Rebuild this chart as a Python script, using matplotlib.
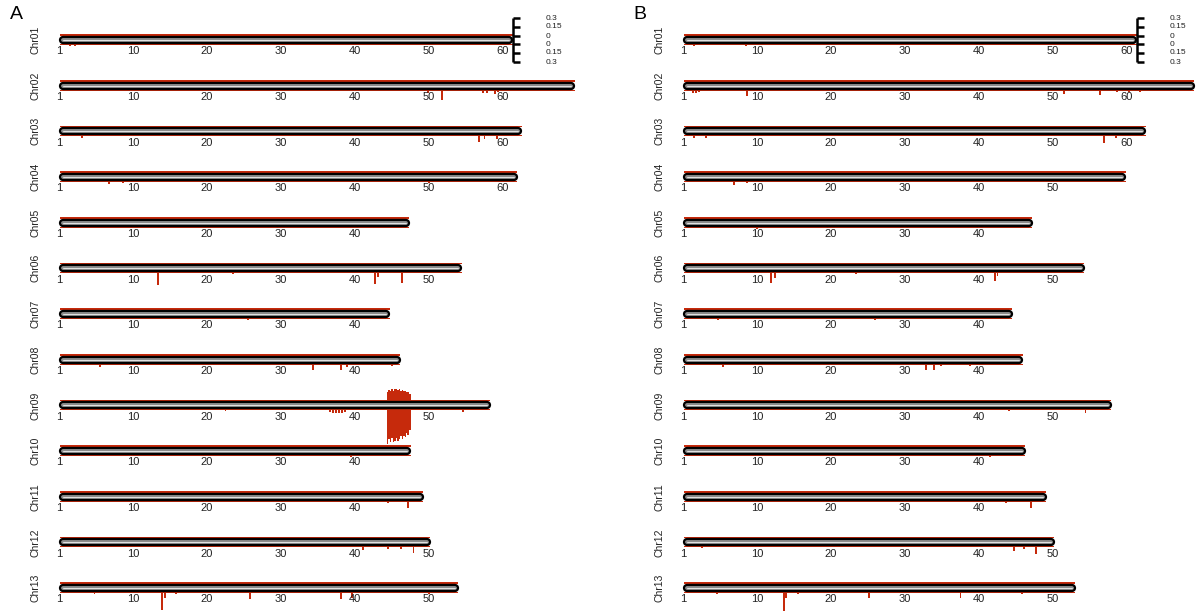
import matplotlib
matplotlib.use('Agg')
import matplotlib.pyplot as plt

plt.rcParams['font.family'] = ['Liberation Sans', 'DejaVu Sans']

chroms = ['Chr01', 'Chr02', 'Chr03', 'Chr04', 'Chr05', 'Chr06', 'Chr07',
          'Chr08', 'Chr09', 'Chr10', 'Chr11', 'Chr12', 'Chr13']

# chromosome lengths (Mb)
len_A = [61.4, 69.8, 62.6, 62.0, 47.4, 54.5, 44.8, 46.2, 58.4, 47.6, 49.3, 50.3, 54.0]
len_B = [61.4, 69.2, 62.6, 59.9, 47.3, 54.3, 44.6, 46.0, 58.0, 46.3, 49.2, 50.3, 53.1]

# lower track peaks (position Mb, value)
low_pos_A = [
    [1.5, 2.2, 8.0],
    [2.0, 8.7, 49.9, 51.8, 57.3, 57.8, 58.9, 59.3],
    [3.1, 56.7, 57.5, 59.2],
    [6.8, 8.7, 50.0],
    [8.2, 9.2, 13.8],
    [13.4, 23.5, 42.7, 43.1, 46.4],
    [4.5, 25.5],
    [5.5, 34.3, 38.1, 38.9, 45.0],
    [22.5, 36.6, 37.0, 37.4, 37.8, 38.2, 38.6, 54.6],
    [39.5],
    [4.5, 11.0, 44.5, 47.2],
    [41.1, 44.5, 46.2, 47.9],
    [4.8, 13.9, 14.3, 15.8, 25.8, 38.1, 39.6, 50.0],
]
low_val_A = [
    [0.04, 0.03, 0.02],
    [0.03, 0.03, 0.05, 0.18, 0.06, 0.05, 0.07, 0.04],
    [0.04, 0.11, 0.06, 0.06],
    [0.05, 0.03, 0.03],
    [0.03, 0.03, 0.02],
    [0.21, 0.03, 0.19, 0.08, 0.18],
    [0.02, 0.03],
    [0.05, 0.10, 0.10, 0.06, 0.04],
    [0.02, 0.05, 0.06, 0.06, 0.06, 0.06, 0.05, 0.04],
    [0.03],
    [0.03, 0.03, 0.04, 0.13],
    [0.06, 0.04, 0.05, 0.11],
    [0.03, 0.30, 0.10, 0.03, 0.12, 0.12, 0.10, 0.03],
]
low_pos_B = [
    [1.5, 8.5],
    [1.4, 1.8, 2.2, 5.5, 8.7, 51.5, 56.3, 58.7, 60.3, 61.7],
    [1.5, 3.1, 56.9, 58.5],
    [6.9, 8.7],
    [4.5, 8.2, 9.0, 10.0, 14.5],
    [11.9, 12.4, 23.4, 42.2, 42.5],
    [4.7, 26.0],
    [5.4, 32.8, 33.9, 34.9, 38.8],
    [44.0, 54.4],
    [41.5],
    [1.5, 10.5, 43.7, 47.0],
    [2.6, 44.7, 46.1, 47.7],
    [4.6, 13.6, 13.9, 15.5, 25.1, 37.5, 45.8],
]
low_val_B = [
    [0.03, 0.03],
    [0.05, 0.05, 0.04, 0.03, 0.11, 0.08, 0.09, 0.04, 0.04, 0.04],
    [0.04, 0.04, 0.12, 0.04],
    [0.06, 0.03],
    [0.03, 0.03, 0.03, 0.04, 0.02],
    [0.17, 0.09, 0.03, 0.15, 0.06],
    [0.03, 0.03],
    [0.05, 0.10, 0.10, 0.04, 0.04],
    [0.03, 0.06],
    [0.03],
    [0.03, 0.03, 0.04, 0.12],
    [0.03, 0.08, 0.05, 0.13],
    [0.03, 0.32, 0.10, 0.04, 0.10, 0.10, 0.04],
]

# Chr09 (panel A) strong region, both tracks
blk_pos = [44.4, 44.6, 44.8, 45.0, 45.2, 45.4, 45.6, 45.8,
           46.0, 46.2, 46.4, 46.6, 46.8, 47.0, 47.2, 47.4]
blk_up = [0.15, 0.19, 0.17, 0.20, 0.18, 0.20, 0.21, 0.19,
          0.20, 0.18, 0.19, 0.17, 0.18, 0.15, 0.16, 0.12]
blk_low = [0.57, 0.50, 0.55, 0.48, 0.54, 0.52, 0.47, 0.53,
           0.50, 0.45, 0.49, 0.44, 0.46, 0.40, 0.42, 0.34]

scale_vals = [0.3, 0.15, 0, 0, 0.15, 0.3]

RED = '#c62a0c'
ROW = 45.67 / 60.0
HALF = 4.0 / 60.0
PX = 7.4  # px per Mb

fig = plt.figure(figsize=(12.01, 6.11), dpi=100)


def draw_panel(ax, lengths, lpos, lval, letter, block=False):
    for i, name in enumerate(chroms):
        L = lengths[i]
        yc = -i * ROW
        # baseline signal
        ax.fill_between([0.1, L - 0.1], yc + HALF, yc + HALF + 0.028,
                        color=RED, linewidth=0)
        ax.fill_between([0.1, L - 0.1], yc - HALF - 0.018, yc - HALF,
                        color=RED, linewidth=0)
        ax.bar(lpos[i], [-v for v in lval[i]], width=0.25,
               bottom=yc - HALF, color=RED, linewidth=0)
        if block and i == 8:
            ax.bar(blk_pos, blk_up, width=0.22, bottom=yc + HALF,
                   color=RED, linewidth=0)
            ax.bar(blk_pos, [-v for v in blk_low], width=0.22,
                   bottom=yc - HALF, color=RED, linewidth=0)
        # chromosome bar
        ax.plot([0.5, L - 0.55], [yc, yc], color='black', lw=6,
                solid_capstyle='round', zorder=5)
        ax.plot([0.5, L - 0.55], [yc, yc], color='#8c8c8c', lw=2.8,
                solid_capstyle='round', zorder=6)
        ax.plot([0.5, L - 0.55], [yc, yc], color='#f2f2f2', lw=0.6,
                solid_capstyle='round', zorder=7)
        # ticks
        ticks = [0] + [t for t in range(10, int(L) + 1, 10)]
        for t in ticks:
            lab = '1' if t == 0 else str(t)
            ax.text(t, yc - 0.19, lab, ha='center', va='center',
                    fontsize=8, color='#222222')
        ax.text(-3.24, yc, name, rotation=90, ha='center', va='center',
                fontsize=7.5, color='#222222')
    # scale bar at end of Chr01
    x0 = lengths[0]
    top = HALF + 0.3
    ax.plot([x0, x0], [top, -top], color='black', lw=1.8,
            solid_capstyle='butt', zorder=8)
    ys = [HALF + 0.3, HALF + 0.15, HALF, -HALF, -HALF - 0.15, -HALF - 0.3]
    for y, v in zip(ys, scale_vals):
        ax.plot([x0 - 0.1, x0 + 0.85], [y, y], color='black', lw=1.8,
                solid_capstyle='butt', zorder=8)
        ax.text(65.7, y, str(v), ha='left', va='center', fontsize=6,
                color='#222222')
    ax.text(-5.8, 0.433, letter, ha='center', va='center', fontsize=14,
            color='black')


axA = fig.add_axes([0, 0, 600 / 1201, 1])
axA.set_xlim(-59 / PX, (600 - 59) / PX)
axA.set_ylim(-(611 - 40) / 60.0, 40 / 60.0)
axA.axis('off')
draw_panel(axA, len_A, low_pos_A, low_val_A, 'A', block=True)

axB = fig.add_axes([620 / 1201, 0, 581 / 1201, 1])
axB.set_xlim((620 - 683) / PX, (1201 - 683) / PX)
axB.set_ylim(-(611 - 40) / 60.0, 40 / 60.0)
axB.axis('off')
draw_panel(axB, len_B, low_pos_B, low_val_B, 'B')

fig.savefig('out.png', dpi=100)
